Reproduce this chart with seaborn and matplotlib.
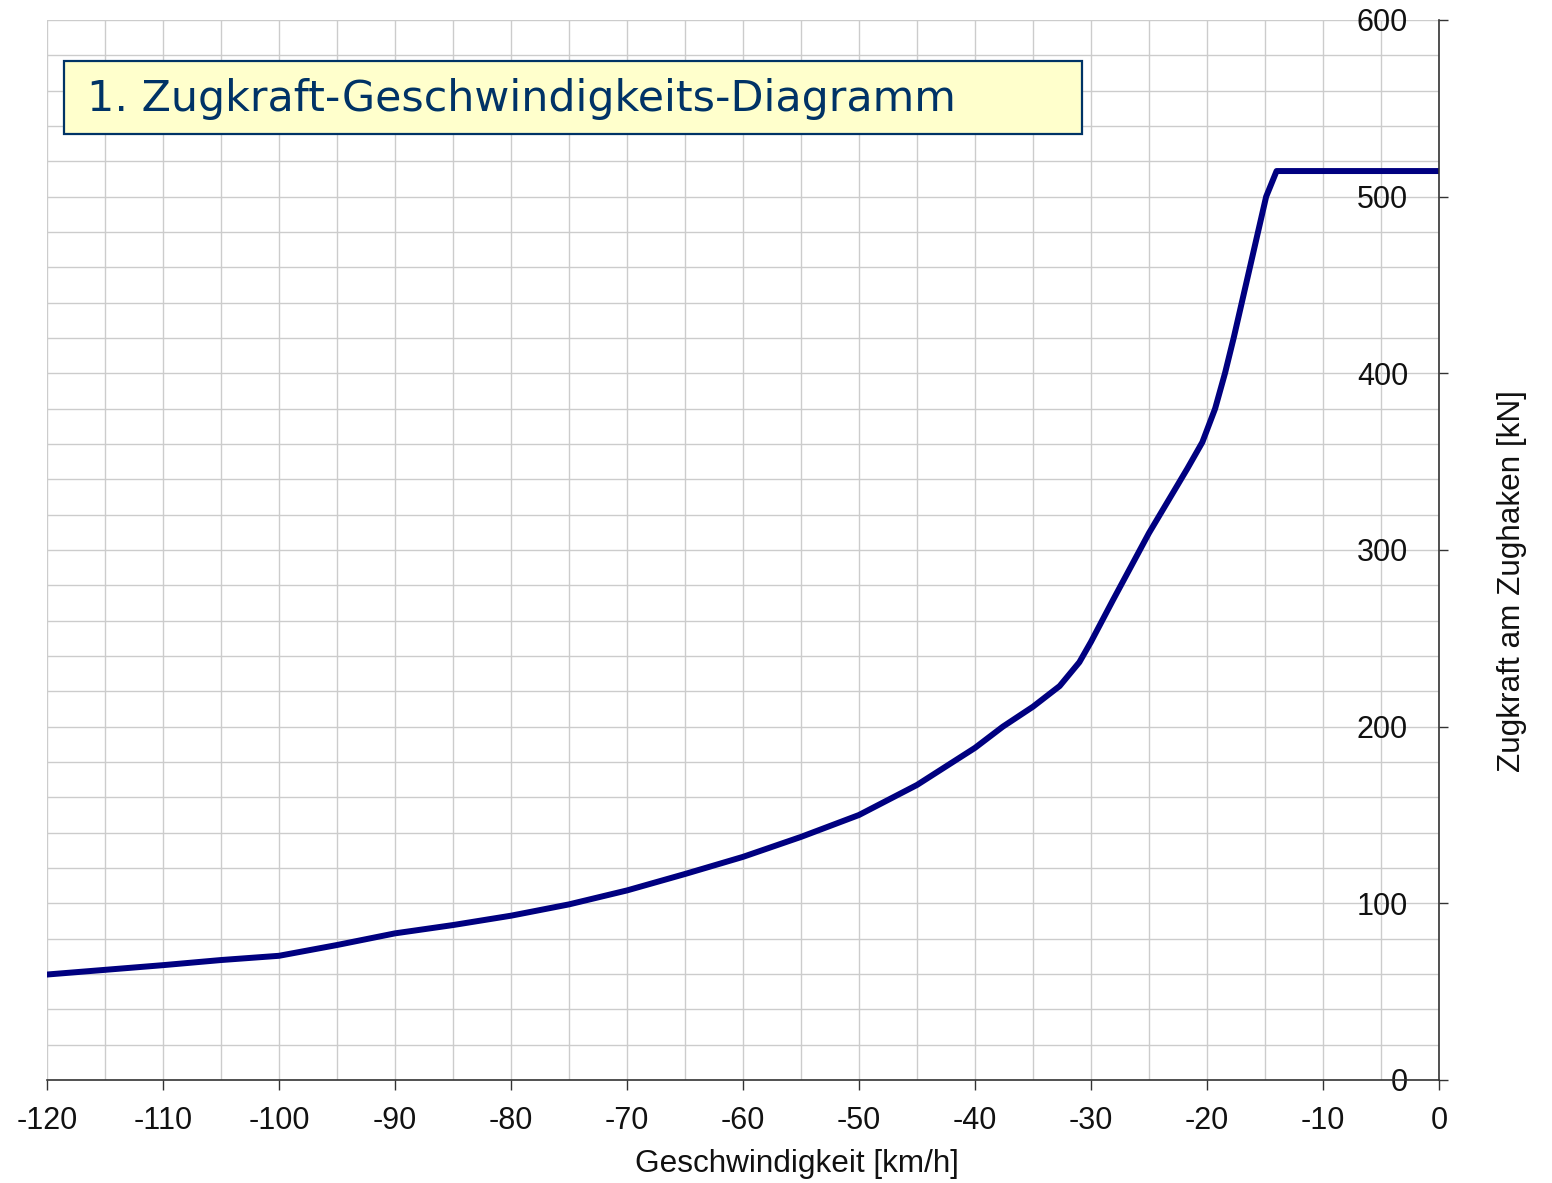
import numpy as np
import pandas as pd
import matplotlib
matplotlib.use("Agg")
import matplotlib.pyplot as plt
import seaborn as sns
from matplotlib.patches import Rectangle

# Zugkraft über Geschwindigkeit
speed = [-120, -110, -105, -100, -95, -90, -85, -80, -75, -70, -65, -60, -55, -50,
         -45, -40, -37.6, -35, -32.7, -31, -30, -28.1, -25, -21.7, -20.4, -19.3,
         -18.45, -17.7, -17.0, -16.3, -15.6, -14.9, -14.0, 0]
force = [59.7, 65, 67.9, 70.3, 76.4, 83, 87.7, 93, 99.4, 107.3, 116.6, 126.3, 137.6, 150,
         167, 188, 200, 211.3, 223, 236.5, 248, 271.7, 309.6, 346, 361, 380,
         400, 420, 440, 460, 480, 500, 514.5, 514.5]

x_major = np.arange(-120, 1, 10)
y_major = np.arange(0, 601, 100)
title_text = "1. Zugkraft-Geschwindigkeits-Diagramm"
xlabel = "Geschwindigkeit [km/h]"
ylabel = "Zugkraft am Zughaken [kN]"

sns.set_style("white")
plt.rcParams['font.family'] = ['Liberation Sans', 'DejaVu Sans']

fig = plt.figure(figsize=(15.52, 11.83), dpi=100)
ax = fig.add_axes([0.03028, 0.08707, 0.8969, 0.89603])

df = pd.DataFrame({"v": speed, "F": force})
sns.lineplot(data=df, x="v", y="F", ax=ax, color="#000080", linewidth=4.3, sort=False)
ax.lines[0].set_solid_joinstyle("round")

ax.set_xlim(-120, 0)
ax.set_ylim(0, 600)
ax.set_xticks(x_major)
ax.set_xticks(np.arange(-120, 1, 5), minor=True)
ax.set_yticks(y_major)
ax.set_yticks(np.arange(0, 601, 20), minor=True)
ax.set_xticklabels([str(v) for v in x_major])

ax.grid(True, which="both", color="#cccccc", linewidth=1.0)
ax.set_axisbelow(True)

for s in ["top", "left"]:
    ax.spines[s].set_visible(False)
for s in ["bottom", "right"]:
    ax.spines[s].set_color("#333333")
    ax.spines[s].set_linewidth(1.2)

ax.yaxis.tick_right()
ax.tick_params(axis="x", which="major", direction="out", length=7, width=1,
               color="#333333", labelsize=22, labelcolor="#111111", pad=12, bottom=True)
ax.tick_params(axis="y", which="major", direction="out", length=6.5, width=1,
               color="#333333", labelsize=22, labelcolor="#111111", pad=-28.8,
               right=True, left=False)
ax.tick_params(which="minor", length=0)
plt.setp(ax.get_yticklabels(), ha="right")

ax.set_xlabel(xlabel, fontsize=22.7, color="#111111")
ax.xaxis.set_label_coords(0.539, -0.065)
ax.yaxis.set_label_position("right")
ax.set_ylabel(ylabel, fontsize=22.7, color="#111111")
ax.yaxis.set_label_coords(1.042, 0.471)

# Titelkasten
ax.add_patch(Rectangle((0.0122, 0.8925), 0.7313, 0.0689, transform=ax.transAxes,
                       facecolor="#ffffcc", edgecolor="#003366", linewidth=1.6,
                       zorder=5))
ax.text(0.0287, 0.9255, title_text, transform=ax.transAxes, fontsize=30.8,
        color="#003366", family=["DejaVu Sans"], va="center", ha="left", zorder=6)

fig.savefig("out.png", dpi=100)
plt.close(fig)
